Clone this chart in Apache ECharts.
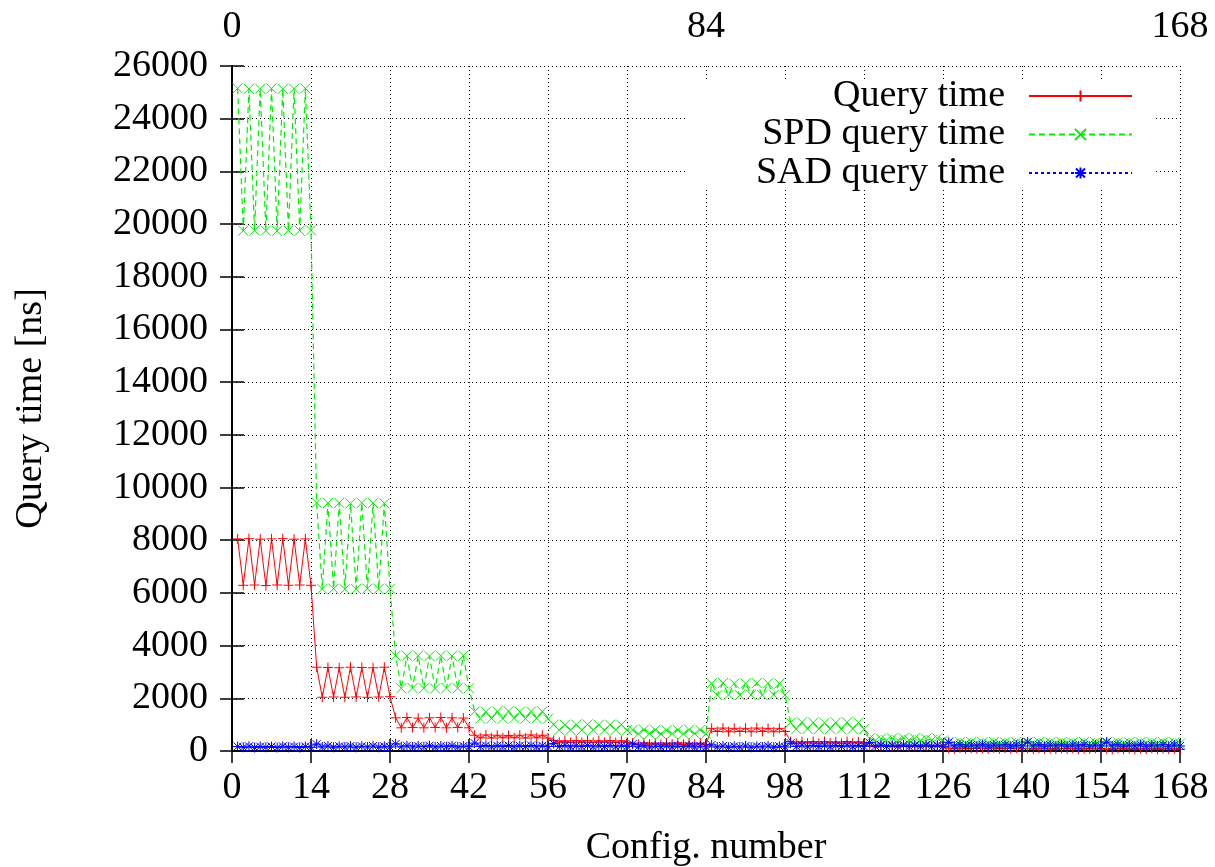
<!DOCTYPE html>
<html>
<head>
<meta charset="utf-8">
<title>Query time per configuration</title>
<script src="https://cdn.jsdelivr.net/npm/echarts@6/dist/echarts.min.js"></script>
<style>
  html, body { margin: 0; padding: 0; background: #ffffff; }
  #chart { width: 1215px; height: 867px; }
</style>
</head>
<body>
<div id="chart"></div>
<script>
// Mean query time per configuration (ns); configurations are numbered 1..168,
// grouped in blocks of 14.
const queryTime = [
  8050, 6290, 8060, 6300, 8040, 6280, 8050, 6300, 8060, 6290, 8040, 6300, 8050, 6290,
  3180, 2040, 3170, 2050, 3160, 2040, 3180, 2050, 3170, 2040, 3160, 2050, 3180, 2060,
  1260, 880, 1270, 890, 1250, 880, 1260, 890, 1270, 880, 1260, 890, 1250, 880,
  600, 500, 610, 490, 600, 500, 590, 500, 600, 490, 610, 500, 600, 490,
  400, 330, 390, 320, 400, 330, 400, 320, 390, 330, 400, 320, 390, 330,
  300, 250, 310, 260, 300, 250, 300, 260, 310, 250, 300, 260, 300, 250,
  860, 740, 870, 730, 860, 740, 860, 730, 870, 740, 860, 730, 860, 740,
  360, 290, 350, 300, 360, 290, 360, 300, 350, 290, 360, 300, 350, 290,
  200, 160, 210, 170, 200, 160, 200, 170, 210, 160, 200, 170, 200, 160,
  110, 80, 120, 80, 110, 90, 110, 80, 120, 80, 110, 90, 110, 80,
  100, 70, 100, 80, 90, 70, 100, 80, 100, 70, 90, 80, 100, 70,
  90, 60, 100, 70, 90, 60, 90, 70, 100, 60, 90, 70, 90, 60
];

const spdQueryTime = [
  25150, 19750, 25130, 19760, 25140, 19750, 25150, 19740, 25130, 19760, 25140, 19750, 25150, 19760,
  9420, 6150, 9410, 6160, 9420, 6140, 9400, 6150, 9420, 6160, 9410, 6150, 9400, 6160,
  3620, 2380, 3610, 2390, 3620, 2380, 3600, 2370, 3620, 2390, 3610, 2380, 3620, 2380,
  1500, 1230, 1490, 1240, 1500, 1230, 1510, 1240, 1490, 1230, 1500, 1240, 1500, 1230,
  1000, 790, 990, 800, 1000, 790, 1010, 800, 990, 790, 1000, 800, 1000, 790,
  800, 650, 810, 660, 800, 650, 790, 660, 800, 650, 810, 660, 800, 650,
  2570, 2120, 2580, 2130, 2560, 2120, 2570, 2130, 2580, 2120, 2570, 2130, 2560, 2120,
  1080, 830, 1090, 840, 1080, 830, 1070, 840, 1080, 830, 1090, 840, 1080, 830,
  480, 400, 470, 410, 480, 400, 490, 410, 480, 400, 470, 410, 480, 400,
  340, 280, 330, 290, 340, 280, 330, 290, 340, 280, 330, 290, 340, 280,
  330, 280, 340, 290, 330, 280, 340, 290, 330, 280, 340, 290, 330, 280,
  330, 280, 330, 290, 330, 280, 340, 290, 330, 280, 330, 290, 330, 280
];

const sadQueryTime = [
  170, 140, 180, 130, 170, 140, 170, 130, 180, 140, 170, 130, 170, 140,
  260, 150, 190, 140, 180, 150, 190, 140, 180, 150, 190, 140, 180, 150,
  270, 160, 200, 150, 190, 160, 200, 150, 190, 160, 200, 150, 190, 160,
  300, 170, 210, 160, 200, 170, 210, 160, 200, 170, 210, 160, 200, 170,
  280, 170, 210, 160, 200, 170, 210, 160, 200, 170, 210, 160, 200, 170,
  260, 160, 200, 150, 190, 160, 200, 150, 190, 160, 200, 150, 190, 160,
  230, 150, 190, 140, 180, 150, 190, 140, 180, 150, 190, 140, 180, 150,
  300, 170, 220, 160, 210, 170, 220, 160, 210, 170, 220, 160, 210, 170,
  320, 180, 230, 170, 220, 180, 230, 170, 220, 180, 230, 170, 220, 180,
  330, 190, 240, 180, 230, 190, 240, 180, 230, 190, 240, 180, 230, 190,
  340, 190, 240, 180, 230, 190, 240, 180, 230, 190, 240, 180, 230, 190,
  340, 190, 240, 180, 230, 190, 240, 180, 230, 190, 240, 180, 230, 190
];

const seriesNames = ['Query time', 'SPD query time', 'SAD query time'];
const topTickLabels = [0, 84, 168];

const FONT = 'Liberation Serif';
const FONT_SIZE = 38;

// Point markers: plus, cross and star drawn as stroked open paths.
const MARK_PLUS = 'path://M0,-1L0,1M-1,0L1,0';
const MARK_CROSS = 'path://M-1,-1L1,1M-1,1L1,-1';
const MARK_STAR = 'path://M0,-1L0,1M-1,0L1,0M-0.8,-0.8L0.8,0.8M-0.8,0.8L0.8,-0.8';

function toPoints(values) {
  return values.map((v, i) => [i + 1, v]);
}

function lineSeries(name, values, color, symbol, lineType, lineWidth) {
  return {
    name: name,
    type: 'line',
    xAxisIndex: 0,
    yAxisIndex: 0,
    data: toPoints(values),
    symbol: symbol,
    symbolSize: 10,
    showSymbol: true,
    showAllSymbol: true,
    animation: false,
    silent: true,
    lineStyle: { color: color, width: lineWidth, type: lineType },
    itemStyle: { color: 'rgba(0,0,0,0)', borderColor: color, borderWidth: 1 }
  };
}

const axisLineStyle = { show: true, lineStyle: { color: '#000', width: 2 } };
const tickStyle = { show: true, inside: true, length: 12, lineStyle: { color: '#000', width: 1.5 } };
const gridLineStyle = { show: true, lineStyle: { color: '#000', width: 1, type: [1, 3] } };
const labelStyle = { color: '#000', fontFamily: FONT, fontSize: FONT_SIZE };

function legendFor(name, index) {
  return {
    data: [name],
    orient: 'horizontal',
    align: 'right',
    right: 82,
    top: 77 + index * 38.5,
    padding: 0,
    itemWidth: 103,
    itemHeight: 14,
    selectedMode: false,
    formatter: n => n + '\u00a0\u00a0',
    textStyle: { color: '#000', fontFamily: FONT, fontSize: FONT_SIZE }
  };
}

const chart = echarts.init(document.getElementById('chart'), null, { renderer: 'canvas' });

chart.setOption({
  backgroundColor: '#ffffff',
  animation: false,
  grid: {
    left: 232, right: 35, top: 66, bottom: 116,
    containLabel: false, outerBoundsMode: 'none'
  },
  xAxis: [
    {
      type: 'value', position: 'bottom', min: 0, max: 168, interval: 14,
      name: 'Config. number', nameLocation: 'middle', nameGap: 78,
      nameTextStyle: labelStyle,
      axisLine: axisLineStyle, axisTick: tickStyle,
      axisLabel: Object.assign({ margin: 18 }, labelStyle),
      splitLine: gridLineStyle
    },
    {
      type: 'value', position: 'top', min: 0, max: 168, interval: 14,
      axisLine: axisLineStyle, axisTick: tickStyle,
      axisLabel: Object.assign({
        margin: 20,
        formatter: v => (topTickLabels.indexOf(v) >= 0 ? String(v) : '')
      }, labelStyle),
      splitLine: { show: false }
    }
  ],
  yAxis: [
    {
      type: 'value', position: 'left', min: 0, max: 26000, interval: 2000,
      name: 'Query time [ns]', nameLocation: 'middle', nameGap: 182,
      nameTextStyle: labelStyle,
      axisLine: axisLineStyle, axisTick: tickStyle,
      axisLabel: Object.assign({ margin: 24, formatter: v => String(v) }, labelStyle),
      splitLine: gridLineStyle
    },
    {
      type: 'value', position: 'right', min: 0, max: 26000, interval: 2000,
      axisLine: axisLineStyle, axisTick: tickStyle,
      axisLabel: { show: false },
      splitLine: { show: false }
    }
  ],
  graphic: [
    {
      // blank key area behind the legend entries
      type: 'rect', z: 1, silent: true,
      shape: { x: 688, y: 79, width: 467, height: 111 },
      style: { fill: '#ffffff' }
    }
  ],
  legend: seriesNames.map(legendFor),
  series: [
    lineSeries(seriesNames[0], queryTime, '#ff0000', MARK_PLUS, 'solid', 1),
    lineSeries(seriesNames[1], spdQueryTime, '#00ee00', MARK_CROSS, [6, 4], 1.2),
    lineSeries(seriesNames[2], sadQueryTime, '#0000ff', MARK_STAR, [3, 3], 1)
  ]
});
</script>
</body>
</html>
